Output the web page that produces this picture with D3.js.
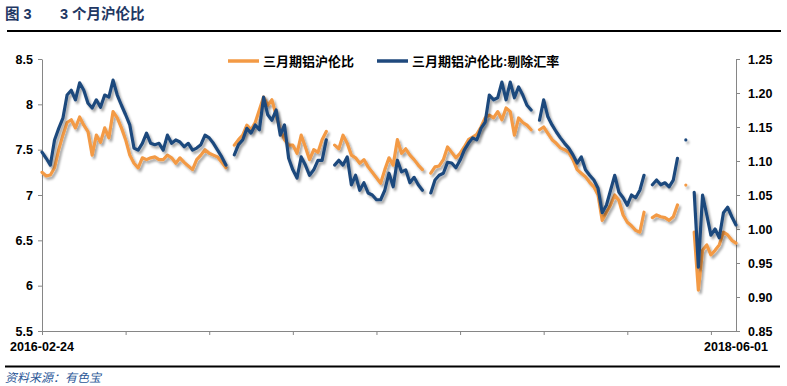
<!DOCTYPE html>
<html>
<head>
<meta charset="utf-8">
<script src="https://cdn.jsdelivr.net/npm/d3@7"></script>
<style>
  body { margin: 0; background: #fff; }
  text { font-family: "Liberation Sans", Arial, "Noto Sans CJK SC", sans-serif; }
</style>
</head>
<body>
<script>
// Data (null = gap in the series)
const dateLabels = ["2016-02-24", "2018-06-01"];

const shfeLme = [
  7.25, 7.21, 7.22, 7.30, 7.50, 7.66, 7.80, 7.83, 7.74, 7.86,
  7.77, 7.70, 7.44, 7.66, 7.58, 7.74, 7.63, 7.92, 7.85, 7.74,
  7.61, 7.44, 7.35, 7.30, 7.41, 7.39, 7.41, 7.42, 7.39, 7.39,
  7.44, 7.41, 7.35, 7.41, 7.36, 7.32, 7.28, 7.39, 7.44, 7.50,
  7.46, 7.44, 7.42, 7.36, 7.30, null, 7.55, 7.61, 7.66, 7.77,
  7.72, 7.80, 7.94, 8.08, 7.99, 8.05, 7.88, 7.72, 7.61, 7.55,
  7.55, 7.46, 7.66, 7.53, 7.39, 7.50, 7.47, 7.61, 7.70, null,
  7.55, 7.51, 7.66, 7.57, 7.44, 7.41, 7.35, 7.39, 7.31, 7.25,
  7.19, 7.13, 7.28, 7.41, 7.33, 7.61, 7.46, 7.51, 7.44, 7.39,
  7.33, 7.28, null, 7.24, 7.31, 7.32, 7.39, 7.53, 7.47, 7.41,
  7.46, 7.53, 7.61, 7.64, 7.67, 7.75, 7.85, 7.88, 7.85, 7.92,
  7.83, 7.96, 7.92, 7.66, 7.85, 7.80, 7.77, 7.72, null, 7.72,
  7.75, 7.68, 7.61, 7.57, 7.52, 7.50, 7.47, 7.39, 7.28, 7.24,
  7.20, 7.14, 7.09, 7.00, 6.72, 6.81, 6.89, 7.00, 6.94, 6.78,
  6.70, 6.66, 6.61, 6.59, 6.81, null, 6.75, 6.78, 6.76, 6.75,
  6.72, 6.76, 6.89, null, 7.11, null, 6.59, 5.95, 6.39, 6.45,
  6.34, 6.39, 6.45, 6.59, 6.56, 6.50, 6.47
];

const shfeLmeExFx = [
  1.113, 1.104, 1.094, 1.131, 1.148, 1.163, 1.197, 1.204, 1.190, 1.215,
  1.204, 1.185, 1.178, 1.190, 1.179, 1.197, 1.194, 1.219, 1.197, 1.182,
  1.168, 1.153, 1.119, 1.116, 1.126, 1.141, 1.126, 1.124, 1.126, 1.116,
  1.138, 1.126, 1.131, 1.128, 1.121, 1.126, 1.116, 1.119, 1.124, 1.138,
  1.134, 1.126, 1.116, 1.106, 1.094, null, 1.109, 1.124, 1.131, 1.148,
  1.141, 1.153, 1.146, 1.194, 1.168, 1.160, 1.175, 1.138, 1.153, 1.104,
  1.087, 1.075, 1.106, 1.094, 1.079, 1.087, 1.101, 1.101, 1.131, null,
  1.094, 1.101, 1.094, 1.106, 1.065, 1.079, 1.057, 1.068, 1.053, 1.050,
  1.043, 1.043, 1.057, 1.082, 1.062, 1.101, 1.084, 1.087, 1.068, 1.076,
  1.065, 1.057, null, 1.053, 1.072, 1.079, 1.082, 1.098, 1.097, 1.090,
  1.101, 1.116, 1.126, 1.134, 1.131, 1.148, 1.157, 1.197, 1.190, 1.193,
  1.216, 1.190, 1.216, 1.193, 1.209, 1.197, 1.182, 1.175, null, 1.160,
  1.190, 1.165, 1.153, 1.143, 1.134, 1.126, 1.119, 1.109, 1.097, 1.106,
  1.087, 1.079, 1.072, 1.060, 1.024, 1.035, 1.057, 1.079, 1.054, 1.046,
  1.035, 1.050, 1.046, 1.057, 1.079, null, 1.065, 1.072, 1.065, 1.068,
  1.062, 1.072, 1.104, null, 1.131, null, 1.054, 0.944, 1.050, 1.021,
  0.991, 1.000, 0.987, 1.024, 1.032, 1.018, 1.006
];

const leftTicks = [5.5, 6, 6.5, 7, 7.5, 8, 8.5];
const rightTicks = [0.85, 0.90, 0.95, 1.00, 1.05, 1.10, 1.15, 1.20, 1.25];
const seriesNames = ["三月期铝沪伦比", "三月期铝沪伦比:剔除汇率"];
const colors = ["#F39A45", "#1F497D"];

// Size & margins
let width = 787, height = 386;
let margin = { top: 59, bottom: 55, left: 42, right: 51 };
const n = shfeLme.length;

let svg = d3.select('body')
  .append('svg')
  .attr('width', width)
  .attr('height', height);

// Drop shadow like the Excel lines
const filter = svg.append('defs').append('filter')
  .attr('id', 'shadow')
  .attr('x', '-5%').attr('y', '-5%')
  .attr('width', '110%').attr('height', '115%');
filter.append('feDropShadow')
  .attr('dx', 2).attr('dy', 2.5)
  .attr('stdDeviation', 1.3)
  .attr('flood-color', '#000')
  .attr('flood-opacity', 0.35);

// Scales
const xScale = d3.scaleLinear()
  .domain([0, n - 1])
  .range([margin.left, width - margin.right]);

const yLeft = d3.scaleLinear()
  .domain([5.5, 8.5])
  .range([height - margin.bottom, margin.top]);

const yRight = d3.scaleLinear()
  .domain([0.85, 1.25])
  .range([height - margin.bottom, margin.top]);

// Title
let title = svg.append('text')
  .attr('x', 5)
  .attr('y', 19)
  .style('font-size', '14.5px')
  .style('font-weight', 'bold')
  .style('fill', '#1F3864');
title.append('tspan').text('图 3');
title.append('tspan').attr('x', 60).text('3 个月沪伦比');

svg.append('line')
  .attr('x1', 7).attr('x2', 781)
  .attr('y1', 31).attr('y2', 31)
  .attr('stroke', '#000')
  .attr('stroke-width', 2.2);

// Axes
const axisColor = '#868686';

let yAxisLeft = svg.append('g')
  .attr('transform', `translate(${margin.left},0)`)
  .call(d3.axisLeft(yLeft).tickValues(leftTicks).tickFormat(d => String(d))
    .tickSize(4).tickSizeOuter(0).tickPadding(5));

let yAxisRight = svg.append('g')
  .attr('transform', `translate(${width - margin.right},0)`)
  .call(d3.axisRight(yRight).tickValues(rightTicks).tickFormat(d3.format('.2f'))
    .tickSize(4).tickSizeOuter(0).tickPadding(8));

let xAxis = svg.append('g')
  .attr('transform', `translate(0,${height - margin.bottom})`)
  .call(d3.axisBottom(xScale).tickValues(d3.range(0, n, 20)).tickFormat('')
    .tickSize(4).tickSizeOuter(0));

[yAxisLeft, yAxisRight, xAxis].forEach(function(ax) {
  ax.selectAll('path, line').attr('stroke', axisColor);
  ax.selectAll('text')
    .style('font-size', '12.5px')
    .style('font-weight', 'bold')
    .style('font-family', '"Liberation Sans", Arial, sans-serif')
    .attr('fill', '#000');
});

// First and last date labels
svg.selectAll('.date-label')
  .data([0, n - 1])
  .enter()
  .append('text')
  .attr('class', 'date-label')
  .attr('x', d => xScale(d))
  .attr('y', height - margin.bottom + 20)
  .attr('text-anchor', 'middle')
  .style('font-size', '12.5px')
  .style('font-weight', 'bold')
  .text((d, i) => dateLabels[i]);

// Lines
const lineLeft = d3.line()
  .defined(d => d !== null)
  .x((d, i) => xScale(i))
  .y(d => yLeft(d));

const lineRight = d3.line()
  .defined(d => d !== null)
  .x((d, i) => xScale(i))
  .y(d => yRight(d));

svg.append('path')
  .datum(shfeLme)
  .attr('d', lineLeft)
  .attr('fill', 'none')
  .attr('stroke', colors[0])
  .attr('stroke-width', 3.2)
  .attr('stroke-linejoin', 'round')
  .attr('stroke-linecap', 'round')
  .attr('filter', 'url(#shadow)');

svg.append('path')
  .datum(shfeLmeExFx)
  .attr('d', lineRight)
  .attr('fill', 'none')
  .attr('stroke', colors[1])
  .attr('stroke-width', 3.2)
  .attr('stroke-linejoin', 'round')
  .attr('stroke-linecap', 'round')
  .attr('filter', 'url(#shadow)');

// Legend
const legendX = [228, 377];
let legend = svg.selectAll('.legend')
  .data(seriesNames)
  .enter()
  .append('g')
  .attr('class', 'legend')
  .attr('transform', (d, i) => `translate(${legendX[i]},61)`);

legend.append('line')
  .attr('x1', 0).attr('x2', 31)
  .attr('y1', 0).attr('y2', 0)
  .attr('stroke', (d, i) => colors[i])
  .attr('stroke-width', 3.5);

legend.append('text')
  .attr('x', 35)
  .attr('y', 5)
  .style('font-size', '13px')
  .style('font-weight', 'bold')
  .text(d => d);

// Bottom rule and source
svg.append('line')
  .attr('x1', 5).attr('x2', 780)
  .attr('y1', 366.5).attr('y2', 366.5)
  .attr('stroke', '#000')
  .attr('stroke-width', 2.2);

svg.append('text')
  .attr('x', 5)
  .attr('y', 382)
  .style('font-size', '12px')
  .style('font-style', 'italic')
  .style('fill', '#2B5797')
  .text('资料来源：有色宝');
</script>
</body>
</html>
